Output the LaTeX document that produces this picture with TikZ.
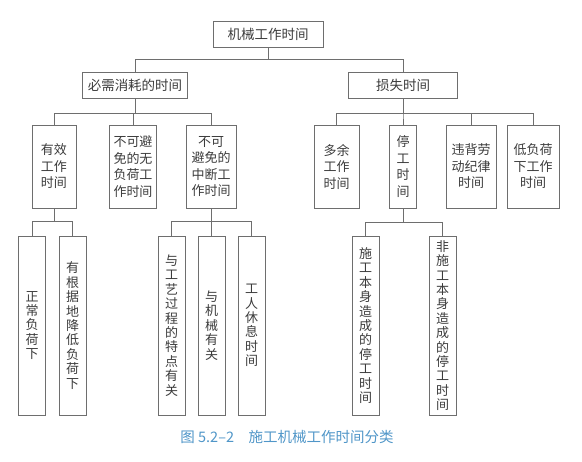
\documentclass[tikz,border=0pt]{standalone}
\usepackage{fontspec}
\newfontfamily\cjk{Noto Sans CJK SC}
\definecolor{linegray}{RGB}{110,110,110}
\definecolor{textgray}{RGB}{60,60,60}
\definecolor{capblue}{RGB}{80,150,200}
\begin{document}
\begin{tikzpicture}[x=1pt,y=-1pt,
    box/.style={draw=linegray,line width=0.8pt,fill=white,text=textgray,inner sep=0pt,align=center},
    headbox/.style={box,minimum height=26pt,font=\cjk\fontsize{13.5}{16}\selectfont},
    midbox/.style={box,minimum height=83pt,font=\cjk\fontsize{13}{16.5}\selectfont},
    tallbox/.style={box,minimum width=27pt,minimum height=179pt,font=\cjk\fontsize{13}{14.4}\selectfont},
    link/.style={draw=linegray,line width=0.8pt}]
        \useasboundingbox (0,0) rectangle (582,462);

        \node[headbox,minimum width=110pt] (mach) at (268,34) {机械工作时间};
        \node[headbox,minimum width=105pt] (need) at (135,85) {必需消耗的时间};
        \node[headbox,minimum width=109pt] (lost) at (403,85) {损失时间};

        \node[midbox,minimum width=44pt] (eff) at (54,166.5) {有效\\工作\\时间};
        \node[midbox,minimum width=47pt] (noload) at (133,166.5) {不可避\\免的无\\负荷工\\作时间};
        \node[midbox,minimum width=50pt] (pause) at (211,166.5) {不可\\避免的\\中断工\\作时间};
        \node[midbox,minimum width=45pt] (surplus) at (336.5,166.5) {多余\\工作\\时间};
        \node[midbox,minimum width=27pt] (halt) at (403,166.5) {停\\工\\时\\间};
        \node[midbox,minimum width=50pt] (disc) at (471,166.5) {违背劳\\动纪律\\时间};
        \node[midbox,minimum width=52pt] (lowload) at (533,166.5) {低负荷\\下工作\\时间};

        \node[tallbox] (normal) at (32,325.5) {正\\常\\负\\荷\\下};
        \node[tallbox] (reduced) at (72.5,325.5) {有\\根\\据\\地\\降\\低\\负\\荷\\下};
        \node[tallbox] (proc) at (171.5,325.5) {与\\工\\艺\\过\\程\\的\\特\\点\\有\\关};
        \node[tallbox] (mech) at (211.5,325.5) {与\\机\\械\\有\\关};
        \node[tallbox] (rest) at (251.5,325.5) {工\\人\\休\\息\\时\\间};
        \node[tallbox] (selfhalt) at (365.5,325.5) {施\\工\\本\\身\\造\\成\\的\\停\\工\\时\\间};
        \node[tallbox] (exthalt) at (442.5,325.5) {非\\施\\工\\本\\身\\造\\成\\的\\停\\工\\时\\间};

        \draw[link] (mach.south) -- ++(0,12) -| (need.north);
        \draw[link] (mach.south) -- ++(0,12) -| (lost.north);

        \foreach \kid in {eff,noload,pause}
            \draw[link] (need.south) -- ++(0,15) -| (\kid.north);
        \foreach \kid in {surplus,halt,disc,lowload}
            \draw[link] (lost.south) -- ++(0,15) -| (\kid.north);

        \foreach \kid in {normal,reduced}
            \draw[link] (eff.south) -- ++(0,13) -| (\kid.north);
        \foreach \kid in {proc,mech,rest}
            \draw[link] (pause.south) -- ++(0,13) -| (\kid.north);
        \foreach \kid in {selfhalt,exthalt}
            \draw[link] (halt.south) -- ++(0,14) -| (\kid.north);

        \node[text=capblue,font=\cjk\fontsize{14.5}{16}\selectfont] (caption) at (287,437) {图 5.2–2\quad 施工机械工作时间分类};
    \end{tikzpicture}
\end{document}
